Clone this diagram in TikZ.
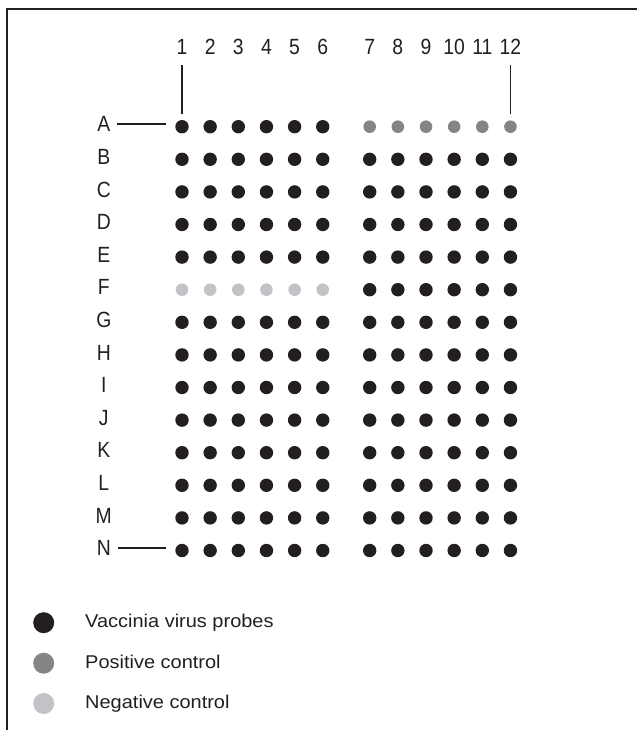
\documentclass[tikz,border=0pt]{standalone}
\usepackage{fontspec}
\setmainfont{Liberation Sans}
\newfontfamily\labfont[FakeStretch=0.88]{Liberation Sans}
\newfontfamily\legfont[FakeStretch=1.08]{Liberation Sans}
\definecolor{ink}{HTML}{231F20}
\definecolor{posc}{HTML}{858587}
\definecolor{negc}{HTML}{C3C3C7}
\begin{document}
\begin{tikzpicture}[x=1pt,y=-1pt,
  spot/.style={circle,inner sep=0pt,minimum size=13.2pt,fill=#1,draw=none},
  lab/.style={inner sep=0pt,text=ink,font=\labfont\fontsize{22}{26}\selectfont},
  legtext/.style={inner sep=0pt,anchor=base west,text=ink,font=\legfont\fontsize{18.5}{22}\selectfont},
  legspot/.style={circle,inner sep=0pt,minimum size=21pt,fill=#1,draw=none},
  conn/.style={draw=ink,line width=1.8pt}]
\useasboundingbox (0,0) rectangle (637,730);
% frame
\draw[ink,line width=2pt] (7,730) -- (7,9.3) -- (637,9.3);
% column labels
\foreach \c in {1,...,12}{
  \ifnum\c<7
    \pgfmathsetmacro{\xx}{182+28.15*(\c-1)}
  \else
    \pgfmathsetmacro{\xx}{369.7+28.15*(\c-7)}
  \fi
  \node[lab,anchor=base] (c\c) at (\xx,55) {\c};
}
% rows
\foreach \r [count=\i from 0] in {A,B,C,D,E,F,G,H,I,J,K,L,M,N}{
  \pgfmathsetmacro{\yy}{126.7+32.6*\i}
  \node[lab,anchor=base] (l\r) at (103.8,\yy+5.2) {\r};
  \foreach \c in {1,...,12}{
    \ifnum\c<7
      \pgfmathsetmacro{\xx}{182+28.15*(\c-1)}
    \else
      \pgfmathsetmacro{\xx}{369.7+28.15*(\c-7)}
    \fi
    \def\fc{ink}\def\sz{13.4pt}
    \ifnum\c>6
      \if\r A\def\fc{posc}\def\sz{12.6pt}\fi
    \else
      \if\r F\def\fc{negc}\def\sz{12.6pt}\fi
    \fi
    \node[spot=\fc,minimum size=\sz] (\r\c) at (\xx,\yy) {};
  }
}
% leader lines
\draw[conn,shorten <=7pt,shorten >=9pt] (lA.east) -- (A1.west |- lA.east);
\draw[conn,shorten <=7pt,shorten >=9pt] (lN.east) -- (N1.west |- lN.east);
\draw[conn,shorten <=10pt,shorten >=6pt] (c1.south) -- (A1.north);
\draw[conn,shorten <=10pt,shorten >=6pt] (c12.south) -- (A12.north);
% legend
\node[legspot=ink] (k1) at (43.7,622.7) {};
\node[legspot=posc] (k2) at (43.7,663.2) {};
\node[legspot=negc] (k3) at (43.7,703.5) {};
\node[legtext] (t1) at (85,627.8) {Vaccinia virus probes};
\node[legtext] (t2) at (85,668.3) {Positive control};
\node[legtext] (t3) at (85,708.6) {Negative control};
\end{tikzpicture}
\end{document}
